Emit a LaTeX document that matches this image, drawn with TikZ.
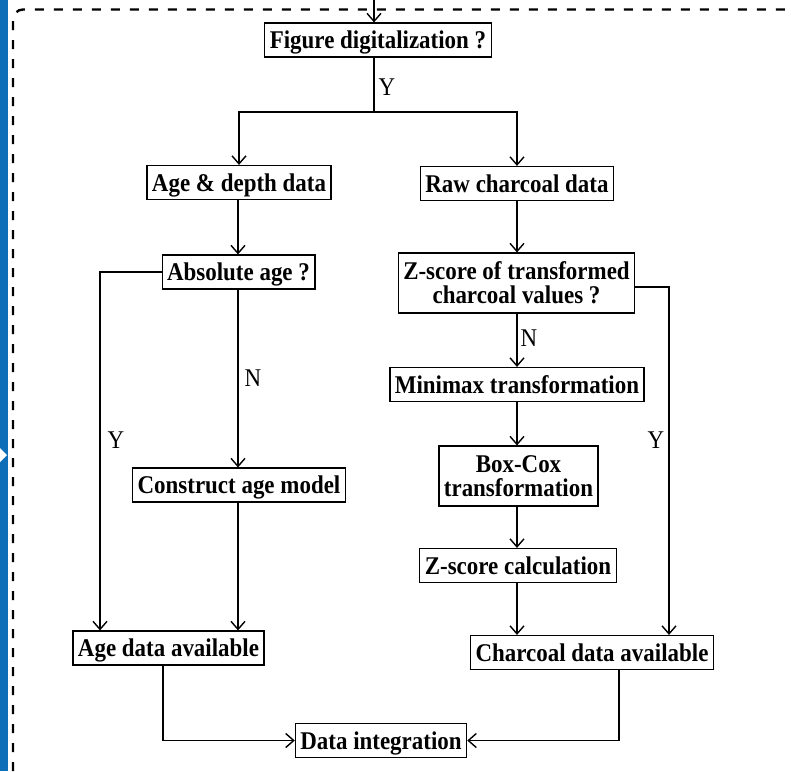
\documentclass[tikz,border=0pt]{standalone}
\usepackage{fontspec}
\setmainfont{Liberation Serif}[FakeStretch=0.9]
\usetikzlibrary{arrows.meta}
\definecolor{barblue}{HTML}{0E6EB8}
\begin{document}
\begin{tikzpicture}[x=1pt,y=-1pt,
  box/.style={draw, line width=1.2pt, font=\bfseries\fontsize{25.5}{24}\selectfont,
    inner xsep=5pt, inner ysep=5.5pt, align=center},
  one/.style={box, text height=20pt, text depth=3pt},
  lbl/.style={font=\fontsize{25.5}{24}\selectfont, inner sep=0pt},
  conn/.style={line width=1.6pt},
  arr/.style={conn, -{Straight Barb[length=8pt,width=14pt,line width=1.4pt]}},
  border/.style={line width=2.4pt, dash pattern=on 9pt off 10pt}]
\useasboundingbox (0,0) rectangle (791,771);
% left bar
\fill[barblue] (0,0) rectangle (8,771);
\fill[white] (0,448) -- (7,455) -- (0,462) -- cycle;
% dashed frame
\draw[border, rounded corners=10pt] (13,771) -- (13,9.5) -- (791,9.5);

% nodes
\node[one] (fig) at (378,40) {Figure digitalization ?};
\node[one] (agedepth) at (239,182.5) {Age \& depth data};
\node[one] (raw) at (517,183.5) {Raw charcoal data};
\node[one] (absage) at (238.5,272) {Absolute age ?};
\node[box, minimum height=60pt] (zs) at (516.5,283) {Z-score of transformed\\charcoal values ?};
\node[one] (minimax) at (517,384.5) {Minimax transformation};
\node[box, minimum height=60pt] (boxcox) at (518.5,476) {Box-Cox\\transformation};
\node[one] (zcalc) at (518,565.5) {Z-score calculation};
\node[one] (construct) at (239,485) {Construct age model};
\node[one] (agedata) at (168.5,648) {Age data available};
\node[one] (charav) at (592,652.5) {Charcoal data available};
\node[one] (integ) at (381,740.5) {Data integration};

% helper coordinates
\coordinate (top) at (374,0);
\coordinate (br) at (374,112);
\coordinate (lx) at (100,0);
\coordinate (rx) at (669,0);
\coordinate (ry) at (0,287);
\coordinate (ax) at (163,0);
\coordinate (cx) at (619,0);
\coordinate (mx) at (238,0);
\coordinate (zx) at (517,0);

% labels
\node[lbl] (y1) at (387,87) {Y};
\node[lbl] (n1) at (253,378) {N};
\node[lbl] (y2) at (116,440) {Y};
\node[lbl] (n2) at (529,338) {N};
\node[lbl] (y3) at (656,440) {Y};

% connectors
\draw[arr] (top) -- (fig.north -| top);
\draw[conn] (fig.south -| br) -- (br);
\draw[arr] (br) -| (agedepth.north);
\draw[arr] (br) -| (raw.north -| zx);
\draw[arr] (agedepth.south -| mx) -- (absage.north -| mx);
\draw[arr] (absage.south -| mx) -- (construct.north -| mx);
\draw[arr] (construct.south -| mx) -- (agedata.north -| mx);
\draw[arr] (absage.west) -| (agedata.north -| lx);
\draw[arr] (agedata.south -| ax) |- (integ.west);
\draw[arr] (raw.south -| zx) -- (zs.north -| zx);
\draw[arr] (zs.south -| zx) -- (minimax.north -| zx);
\draw[arr] (minimax.south -| zx) -- (boxcox.north -| zx);
\draw[arr] (boxcox.south -| zx) -- (zcalc.north -| zx);
\draw[arr] (zcalc.south -| zx) -- (charav.north -| zx);
\draw[arr] (zs.east |- ry) -| (charav.north -| rx);
\draw[arr] (charav.south -| cx) |- (integ.east);
\end{tikzpicture}
\end{document}
